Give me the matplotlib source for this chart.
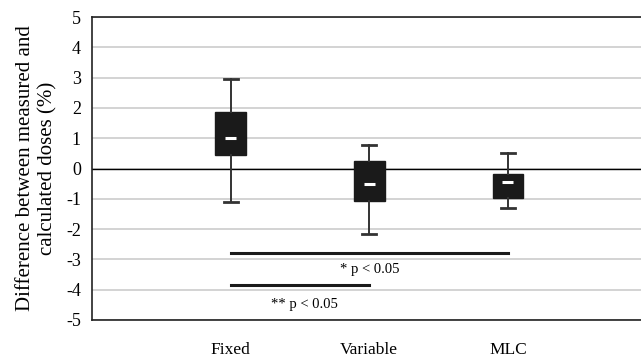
import matplotlib.pyplot as plt

plt.rcParams['font.family'] = ['Liberation Serif', 'DejaVu Serif']
plt.rcParams['axes.unicode_minus'] = False

groups = ["Fixed", "Variable", "MLC"]
whisker_low = [-1.09, -2.15, -1.30]
q1 = [0.46, -1.06, -0.96]
median = [1.02, -0.50, -0.43]
q3 = [1.88, 0.26, -0.17]
whisker_high = [2.95, 0.79, 0.50]

# significance bars: (from group, to group, y)
sig_bars = [(0, 2, -2.8), (0, 1, -3.83)]
sig_labels = [("* p < 0.05", 1.0, -3.33), ("** p < 0.05", 0.53, -4.5)]

fig = plt.figure(figsize=(6.41, 3.59), dpi=100)
ax = fig.add_axes([92 / 641, 1 - 320 / 359, 1 - 92 / 641, 303 / 359])

x = list(range(len(groups)))
stats = []
for i, g in enumerate(groups):
    stats.append({"label": g, "whislo": whisker_low[i], "q1": q1[i], "med": median[i],
                  "q3": q3[i], "whishi": whisker_high[i], "fliers": []})

ax.bxp(stats, positions=x, widths=0.22, patch_artist=True,
       boxprops=dict(facecolor="#1a1a1a", edgecolor="#1a1a1a", linewidth=1),
       whiskerprops=dict(color="#333333", linewidth=1.4),
       capprops=dict(color="#333333", linewidth=2),
       medianprops=dict(color="#1a1a1a", linewidth=0),
       capwidths=0.1, showfliers=False, zorder=3)

# short white median dashes
for i in x:
    ax.plot([i - 0.04, i + 0.04], [median[i], median[i]], color="white", lw=2.2,
            solid_capstyle="butt", zorder=5)

for a, b, y in sig_bars:
    ax.plot([x[a], x[b]], [y, y], color="#1a1a1a", lw=2.2, zorder=4)
for txt, tx, ty in sig_labels:
    ax.text(tx, ty, txt, ha="center", va="center", fontsize=10.5)

ax.axhline(0, color="black", lw=1, zorder=2)
ax.set_ylim(-5, 5)
ax.set_xlim(-1, 2.96)
ax.set_yticks(range(-5, 6))
ax.yaxis.grid(True, color="#cccccc", lw=1.2)
ax.set_axisbelow(True)
ax.tick_params(axis="y", length=0, labelsize=13, pad=8)
ax.tick_params(axis="x", length=0, labelsize=12.5, pad=16)
ax.set_xticks(x)
ax.set_xticklabels(groups)
ax.spines["right"].set_visible(False)
for s in ["left", "top", "bottom"]:
    ax.spines[s].set_color("#222222")
    ax.spines[s].set_linewidth(1.2)
ax.set_ylabel("Difference between measured and\ncalculated doses (%)", fontsize=15,
              labelpad=6, linespacing=1.25)

fig.savefig("out.png", dpi=100)
